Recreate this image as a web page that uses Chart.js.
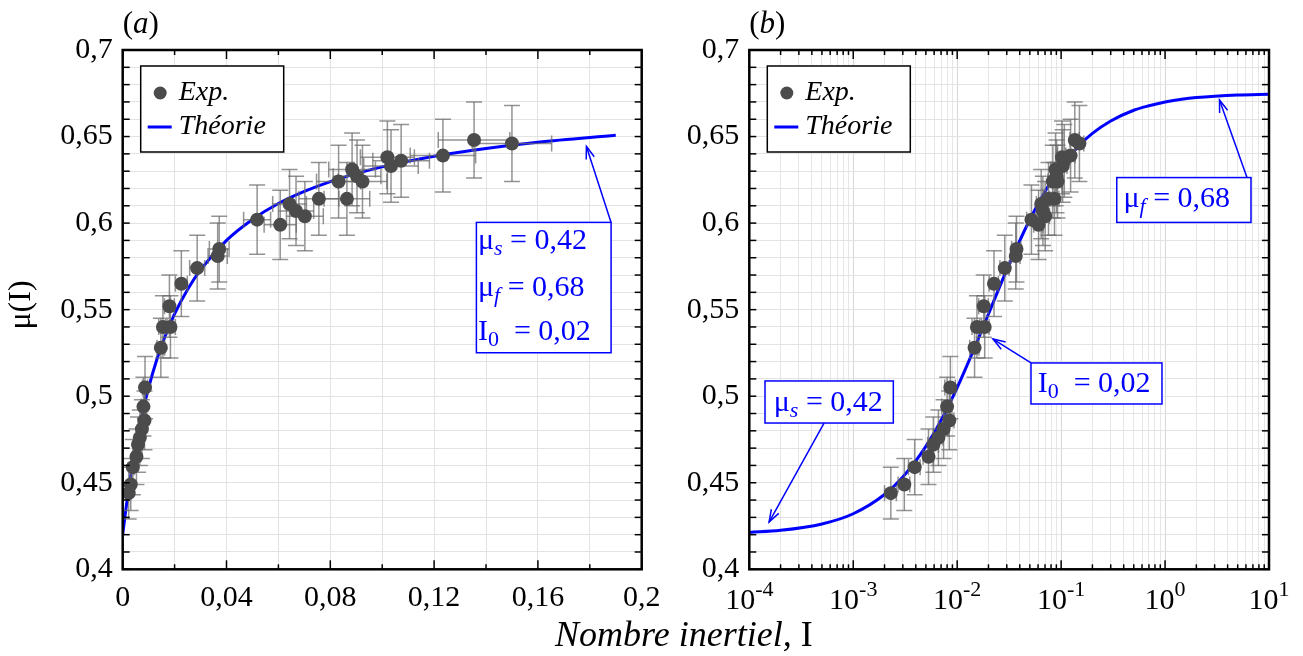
<!DOCTYPE html>
<html>
<head>
<meta charset="utf-8">
<script src="https://cdn.jsdelivr.net/npm/chart.js@4.4.0/dist/chart.umd.min.js"></script>
<style>
    html, body { margin: 0; padding: 0; background: #fff; }
    #wrap { position: relative; width: 1303px; height: 656px; overflow: hidden; }
    #wrap canvas { position: absolute; top: 0; }
    #linChart { left: 0; }
    #logChart { left: 660px; }
</style>
</head>
<body>
<div id="wrap">
    <canvas id="linChart" width="1303" height="656"></canvas>
    <canvas id="logChart" width="643" height="656"></canvas>
</div>
<script>
const expI  = [0.0023, 0.0031, 0.0039, 0.0053, 0.0059, 0.0066, 0.0074, 0.0084, 0.0080, 0.0086,
               0.0147, 0.0155, 0.0184, 0.0180, 0.0226, 0.0287, 0.0366, 0.0372, 0.0518, 0.0607,
               0.0643, 0.0668, 0.0702, 0.0756, 0.0832, 0.0864, 0.0884, 0.0903, 0.0924, 0.1020,
               0.1034, 0.1073, 0.1234, 0.1354, 0.1500];
const expMu = [0.444, 0.449, 0.459, 0.465, 0.472, 0.476, 0.481, 0.486, 0.494, 0.505,
               0.528, 0.540, 0.540, 0.552, 0.565, 0.574, 0.581, 0.585, 0.602, 0.599,
               0.611, 0.607, 0.604, 0.614, 0.624, 0.614, 0.631, 0.627, 0.624, 0.638,
               0.633, 0.636, 0.639, 0.648, 0.646];
const errI  = [0.0003, 0.0004, 0.0005, 0.0006, 0.0007, 0.0007, 0.0008, 0.0009, 0.0009, 0.0010,
               0.0015, 0.0016, 0.0019, 0.0019, 0.0023, 0.0029, 0.0037, 0.0038, 0.0052, 0.0062,
               0.0065, 0.0068, 0.0071, 0.0077, 0.0085, 0.0088, 0.0090, 0.0092, 0.0094, 0.0104,
               0.0105, 0.0109, 0.0126, 0.0138, 0.0153];
const errMu = [0.015, 0.015, 0.016, 0.016, 0.016, 0.016, 0.017, 0.017, 0.017, 0.018,
               0.017, 0.018, 0.018, 0.018, 0.019, 0.019, 0.019, 0.019, 0.020, 0.020,
               0.020, 0.020, 0.020, 0.021, 0.021, 0.021, 0.021, 0.021, 0.021, 0.021,
               0.021, 0.021, 0.021, 0.022, 0.022];

// theory curve, panel (a) and panel (b)
const theoryLinI  = [0, 0.001, 0.002, 0.004, 0.006, 0.008, 0.010, 0.013, 0.016, 0.020, 0.025, 0.030,
                     0.040, 0.050, 0.060, 0.070, 0.080, 0.090, 0.100, 0.120, 0.140, 0.160, 0.190];
const theoryLinMu = [0.4200, 0.4321, 0.4432, 0.4625, 0.4789, 0.4929, 0.5050, 0.5205, 0.5333, 0.5475, 0.5617, 0.5730,
                     0.5900, 0.6021, 0.6113, 0.6183, 0.6240, 0.6286, 0.6325, 0.6386, 0.6431, 0.6467, 0.6507];
const theoryLogI  = [1e-4, 2e-4, 5e-4, 1e-3, 2e-3, 3e-3, 5e-3, 7e-3, 1e-2, 1.5e-2, 2e-2, 3e-2,
                     5e-2, 7e-2, 0.1, 0.15, 0.2, 0.3, 0.5, 0.7, 1, 1.5, 2, 3, 5, 10];
const theoryLogMu = [0.4213, 0.4225, 0.4262, 0.4321, 0.4432, 0.4533, 0.4710, 0.4861, 0.5050, 0.5293, 0.5475, 0.5730,
                     0.6021, 0.6183, 0.6325, 0.6450, 0.6518, 0.6590, 0.6652, 0.6678, 0.6700, 0.6717, 0.6725, 0.6733, 0.6740, 0.6745];

// ticks
const xLinLabels = [0, 0.04, 0.08, 0.12, 0.16, 0.2];
const yLabels = [0.4, 0.45, 0.5, 0.55, 0.6, 0.65, 0.7];
const logDecades = [-4, -3, -2, -1, 0, 1];
const legendLabels = ['Exp.', 'Théorie'];

const SERIF = "'Liberation Serif', 'Times New Roman', serif";
const BLUE = '#0000ff';
const DOT = '#4b4b4b';

// annotation boxes, in data units: box [x0, yTop, x1, yBottom], arrow [fromX, fromY, toX, toY]
const annotLin = [
    { box: [0.1363, 0.6004, 0.1882, 0.5251], textX: 0.1369,
      lines: [['μ', 's', '0,42', 0.5897], ['μ', 'f', '0,68', 0.5625], ['I', '0', '0,02', 0.5371]],
      arrow: [0.1882, 0.6004, 0.1787, 0.6443] }
];
const annotLog = [
    { box: [0.343, 0.6263, 6.71, 0.6004], textX: 0.398,
      lines: [['μ', 'f', '0,68', 0.6139]], arrow: [6.14, 0.6263, 3.34, 0.6711] },
    { box: [0.0513, 0.5192, 0.934, 0.4955], textX: 0.0595,
      lines: [['I', '0', '0,02', 0.5068]], arrow: [0.0513, 0.5192, 0.02213, 0.533] },
    { box: [1.416e-4, 0.5088, 2.43e-3, 0.4845], textX: 1.72e-4,
      lines: [['μ', 's', '0,42', 0.4958]], arrow: [5.24e-4, 0.4845, 1.55e-4, 0.4273] }
];

function fmt(v) { return String(+v.toFixed(2)).replace('.', ','); }
function inList(list, v) { return list.some(l => Math.abs(l - v) < 1e-9); }
function pts(xs, ys) { return xs.map((x, i) => ({ x: x, y: ys[i] })); }

function line(c, x0, y0, x1, y1) {
    c.beginPath(); c.moveTo(x0, y0); c.lineTo(x1, y1); c.stroke();
}

function arrow(c, x0, y0, x1, y1) {
    line(c, x0, y0, x1, y1);
    const a = Math.atan2(y1 - y0, x1 - x0), L = 13, s = 0.33;
    c.beginPath();
    c.moveTo(x1 - L * Math.cos(a - s), y1 - L * Math.sin(a - s));
    c.lineTo(x1, y1);
    c.lineTo(x1 - L * Math.cos(a + s), y1 - L * Math.sin(a + s));
    c.stroke();
}

function drawParam(c, x, y, sym, sub, val) {
    c.fillStyle = BLUE;
    c.textBaseline = 'middle';
    c.textAlign = 'left';
    c.font = '30px ' + SERIF;
    c.fillText(sym, x, y);
    let w = c.measureText(sym).width;
    c.font = (sub === '0' ? '' : 'italic ') + '22px ' + SERIF;
    c.fillText(sub, x + w, y + 8);
    w += c.measureText(sub).width;
    c.font = '30px ' + SERIF;
    c.fillText((sub === '0' ? '  = ' : ' = ') + val, x + w, y);
}

function drawAnnots(chart, list) {
    const c = chart.ctx, xs = chart.scales.x, ys = chart.scales.y;
    c.save();
    list.forEach(an => {
        const bx0 = xs.getPixelForValue(an.box[0]), by0 = ys.getPixelForValue(an.box[1]);
        const bx1 = xs.getPixelForValue(an.box[2]), by1 = ys.getPixelForValue(an.box[3]);
        c.fillStyle = '#fff';
        c.fillRect(bx0, by0, bx1 - bx0, by1 - by0);
        c.strokeStyle = BLUE;
        c.lineWidth = 1.5;
        c.strokeRect(bx0, by0, bx1 - bx0, by1 - by0);
        arrow(c, xs.getPixelForValue(an.arrow[0]), ys.getPixelForValue(an.arrow[1]),
                 xs.getPixelForValue(an.arrow[2]), ys.getPixelForValue(an.arrow[3]));
        an.lines.forEach(l => drawParam(c, xs.getPixelForValue(an.textX), ys.getPixelForValue(l[3]), l[0], l[1], l[2]));
    });
    c.restore();
}

function drawLegend(chart) {
    const c = chart.ctx, a = chart.chartArea;
    const lx = a.left + 18, ly = a.top + 16;
    c.save();
    c.fillStyle = '#fff';
    c.fillRect(lx, ly, 143, 86);
    c.strokeStyle = '#000';
    c.lineWidth = 1.5;
    c.strokeRect(lx, ly, 143, 86);
    c.fillStyle = DOT;
    c.beginPath(); c.arc(lx + 19.5, ly + 27, 6.5, 0, Math.PI * 2); c.fill();
    c.strokeStyle = BLUE; c.lineWidth = 3;
    line(c, lx + 7, ly + 61, lx + 31, ly + 61);
    c.fillStyle = '#000';
    c.font = 'italic 28px ' + SERIF;
    c.textBaseline = 'middle';
    c.fillText(legendLabels[0], lx + 38, ly + 27);
    c.fillText(legendLabels[1], lx + 38, ly + 61);
    c.restore();
}

function drawFrame(chart, xMajor) {
    const c = chart.ctx, a = chart.chartArea, xs = chart.scales.x, ys = chart.scales.y;
    c.save();
    c.strokeStyle = '#000';
    c.lineWidth = 1.5;
    xs.ticks.forEach(t => {
        const px = xs.getPixelForValue(t.value), L = xMajor(t) ? 9 : 5;
        line(c, px, a.bottom, px, a.bottom - L);
        line(c, px, a.top, px, a.top + L);
    });
    ys.ticks.forEach(t => {
        const py = ys.getPixelForValue(t.value);
        line(c, a.left, py, a.left + 7, py);
        line(c, a.right, py, a.right - 7, py);
    });
    c.lineWidth = 2.5;
    c.strokeRect(a.left, a.top, a.right - a.left, a.bottom - a.top);
    c.restore();
}

function drawPanelTag(chart, tag) {
    const c = chart.ctx, a = chart.chartArea;
    c.save();
    c.fillStyle = '#000';
    c.textBaseline = 'middle';
    c.font = '31px ' + SERIF;
    let x = a.left;
    c.fillText('(', x, 25); x += c.measureText('(').width;
    c.font = 'italic 31px ' + SERIF;
    c.fillText(tag, x, 25); x += c.measureText(tag).width;
    c.font = '31px ' + SERIF;
    c.fillText(')', x, 25);
    c.restore();
}

const errorBars = {
    id: 'errorBars',
    beforeDatasetDraw(chart, args) {
        if (args.index !== 0) return;
        const c = chart.ctx, a = chart.chartArea, xs = chart.scales.x, ys = chart.scales.y;
        c.save();
        c.beginPath(); c.rect(a.left, a.top, a.right - a.left, a.bottom - a.top); c.clip();
        c.strokeStyle = 'rgba(105,105,105,0.72)';
        c.lineWidth = 1.5;
        expI.forEach((v, i) => {
            const px = xs.getPixelForValue(v), py = ys.getPixelForValue(expMu[i]);
            const y0 = ys.getPixelForValue(expMu[i] - errMu[i]), y1 = ys.getPixelForValue(expMu[i] + errMu[i]);
            const x0 = xs.getPixelForValue(v - errI[i]), x1 = xs.getPixelForValue(v + errI[i]);
            line(c, px, y0, px, y1);
            line(c, px - 8, y0, px + 8, y0);
            line(c, px - 8, y1, px + 8, y1);
            line(c, x0, py, x1, py);
            line(c, x0, py - 8, x0, py + 8);
            line(c, x1, py - 8, x1, py + 8);
        });
        c.restore();
    }
};

function datasets(curveI, curveMu) {
    return [{
        label: legendLabels[0],
        data: pts(expI, expMu),
        pointRadius: 7,
        pointHoverRadius: 7,
        pointBackgroundColor: DOT,
        pointBorderWidth: 0,
        showLine: false
    }, {
        label: legendLabels[1],
        data: pts(curveI, curveMu),
        showLine: true,
        borderColor: BLUE,
        borderWidth: 3,
        pointRadius: 0,
        cubicInterpolationMode: 'monotone'
    }];
}

function yScale(width) {
    return {
        min: 0.4, max: 0.7,
        ticks: {
            stepSize: 0.01, autoSkip: false, padding: 10, color: '#000',
            font: { family: SERIF, size: 30 },
            callback: v => inList(yLabels, v) ? fmt(v) : ''
        },
        grid: { color: '#e3e3e3', lineWidth: 1, drawTicks: false },
        border: { display: false },
        afterFit: s => { s.width = width; s.paddingTop = 0; s.paddingBottom = 0; }
    };
}

Chart.defaults.font.family = SERIF;
Chart.defaults.color = '#000';

// panel (a): linear axis
new Chart(document.getElementById('linChart'), {
    type: 'scatter',
    data: { datasets: datasets(theoryLinI, theoryLinMu) },
    options: {
        responsive: false,
        animation: false,
        layout: { padding: { left: 0, right: 661.3, top: 50, bottom: 0 } },
        plugins: { legend: { display: false }, tooltip: { enabled: false } },
        scales: {
            x: {
                type: 'linear', min: 0, max: 0.2,
                ticks: {
                    stepSize: 0.02, autoSkip: false, maxRotation: 0, padding: 11, color: '#000',
                    font: { family: SERIF, size: 30 },
                    callback: v => inList(xLinLabels, v) ? fmt(v) : ''
                },
                grid: { color: '#e3e3e3', lineWidth: 1, drawTicks: false },
                border: { display: false },
                afterFit: s => { s.height = 86.7; s.paddingLeft = 0; s.paddingRight = 0; }
            },
            y: yScale(122.7)
        }
    },
    plugins: [errorBars, {
        id: 'decorLin',
        afterDatasetsDraw(chart) {
            drawLegend(chart);
            drawAnnots(chart, annotLin);
            drawFrame(chart, t => inList(xLinLabels, t.value));
            drawPanelTag(chart, 'a');
            const c = chart.ctx;
            c.save();
            c.fillStyle = '#000';
            // y axis title
            c.translate(22, 305);
            c.rotate(-Math.PI / 2);
            c.textAlign = 'center';
            c.textBaseline = 'middle';
            c.font = '32px ' + SERIF;
            c.fillText('μ(I)', 0, 0);
            c.restore();
            // shared x axis title
            c.save();
            c.fillStyle = '#000';
            c.textBaseline = 'alphabetic';
            c.font = 'italic 36px ' + SERIF;
            const t1 = 'Nombre inertiel, ';
            c.fillText(t1, 555, 646);
            const w = c.measureText(t1).width;
            c.font = '36px ' + SERIF;
            c.fillText('I', 555 + w, 646);
            c.restore();
        }
    }]
});

// panel (b): log axis
new Chart(document.getElementById('logChart'), {
    type: 'scatter',
    data: { datasets: datasets(theoryLogI, theoryLogMu) },
    options: {
        responsive: false,
        animation: false,
        layout: { padding: { left: 0, right: 34, top: 50, bottom: 0 } },
        plugins: { legend: { display: false }, tooltip: { enabled: false } },
        scales: {
            x: {
                type: 'logarithmic', min: 1e-4, max: 10,
                ticks: { display: false, autoSkip: false },
                afterBuildTicks: s => {
                    const t = [];
                    logDecades.forEach(d => {
                        for (let k = 1; k <= 9; k++) {
                            const v = k * Math.pow(10, d);
                            if (v <= 10 + 1e-9) t.push({ value: v, major: k === 1 });
                        }
                    });
                    s.ticks = t;
                },
                grid: {
                    color: ctx => (ctx.tick && ctx.tick.major) ? '#d6d6d6' : '#e6e6e6',
                    lineWidth: 1, drawTicks: false
                },
                border: { display: false },
                afterFit: s => { s.height = 86.7; s.paddingLeft = 0; s.paddingRight = 0; }
            },
            y: yScale(89.3)
        }
    },
    plugins: [errorBars, {
        id: 'decorLog',
        afterDatasetsDraw(chart) {
            drawLegend(chart);
            drawAnnots(chart, annotLog);
            drawFrame(chart, t => t.major);
            drawPanelTag(chart, 'b');
            const c = chart.ctx, xs = chart.scales.x, a = chart.chartArea;
            c.save();
            c.fillStyle = '#000';
            c.textBaseline = 'middle';
            c.textAlign = 'left';
            logDecades.forEach(d => {
                const px = xs.getPixelForValue(Math.pow(10, d));
                const ex = String(d);
                c.font = '30px ' + SERIF;
                const w1 = c.measureText('10').width;
                c.font = '22px ' + SERIF;
                const w2 = c.measureText(ex).width;
                const x0 = px - (w1 + w2) / 2;
                c.font = '30px ' + SERIF;
                c.fillText('10', x0, a.bottom + 32);
                c.font = '22px ' + SERIF;
                c.fillText(ex, x0 + w1, a.bottom + 21);
            });
            c.restore();
        }
    }]
});
</script>
</body>
</html>
